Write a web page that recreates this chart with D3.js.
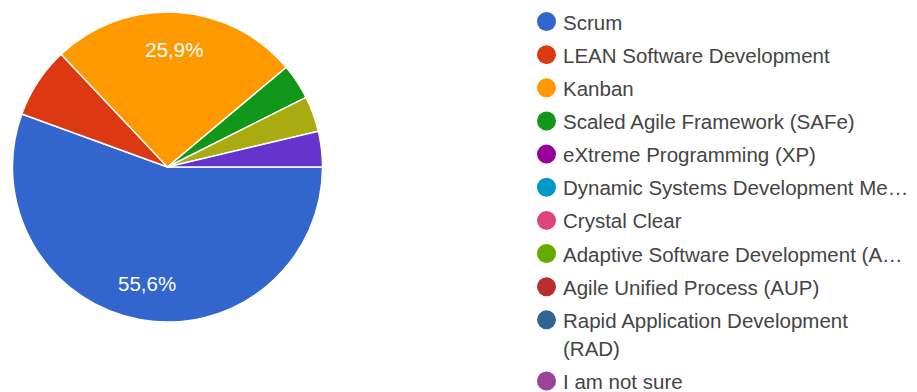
<!DOCTYPE html>
<html>
<head>
<meta charset="utf-8">
<script src="https://cdn.jsdelivr.net/npm/d3@7"></script>
<style>
  html, body { margin: 0; padding: 0; background: #fff; }
  svg { display: block; }
  text { font-family: "Liberation Sans", Arial, sans-serif; }
</style>
</head>
<body>
<svg id="chart" width="917" height="392"></svg>
<script>
// Survey answers: which agile method is used (27 responses)
const categories = [
  "Scrum",
  "LEAN Software Development",
  "Kanban",
  "Scaled Agile Framework (SAFe)",
  "eXtreme Programming (XP)",
  "Dynamic Systems Development Method (DSDM)",
  "Crystal Clear",
  "Adaptive Software Development (ASD)",
  "Agile Unified Process (AUP)",
  "Rapid Application Development (RAD)",
  "I am not sure",
  "Other (1)",
  "Other (2)",
  "Other (3)"
];
const counts = [15, 2, 7, 1, 0, 0, 0, 0, 0, 0, 0, 0, 1, 1];
const colors = [
  "#3366cc", "#dc3912", "#ff9900", "#109618", "#990099", "#0099c6",
  "#dd4477", "#66aa00", "#b82e2e", "#316395", "#994499", "#22aa99",
  "#aaaa11", "#6633cc"
];
// Legend text as shown in the side panel (long names truncated / wrapped)
const legendLabels = [
  ["Scrum"],
  ["LEAN Software Development"],
  ["Kanban"],
  ["Scaled Agile Framework (SAFe)"],
  ["eXtreme Programming (XP)"],
  ["Dynamic Systems Development Me…"],
  ["Crystal Clear"],
  ["Adaptive Software Development (A…"],
  ["Agile Unified Process (AUP)"],
  ["Rapid Application Development", "(RAD)"],
  ["I am not sure"]
];

const svg = d3.select("#chart");
const cx = 167.5, cy = 167, R = 155;

const data = categories.map((c, i) => ({ name: c, value: counts[i], color: colors[i] }));
const total = d3.sum(counts);

const pie = d3.pie()
  .sort(null)
  .value(d => d.value)
  .startAngle(Math.PI / 2)
  .endAngle(Math.PI / 2 + 2 * Math.PI);

const arcs = pie(data).filter(a => a.data.value > 0);
const arc = d3.arc().innerRadius(0).outerRadius(R);
const labelArc = d3.arc().innerRadius(R * 0.76).outerRadius(R * 0.76);

const g = svg.append("g").attr("transform", `translate(${cx},${cy})`);

g.selectAll("path.slice")
  .data(arcs)
  .join("path")
  .attr("class", "slice")
  .attr("d", arc)
  .attr("fill", d => d.data.color)
  .attr("stroke", "#ffffff")
  .attr("stroke-width", 1.4)
  .attr("stroke-linejoin", "round");

const fmt = v => (v * 100).toFixed(1).replace(".", ",") + "%";

g.selectAll("text.pct")
  .data(arcs.filter(a => a.data.value / total >= 0.1))
  .join("text")
  .attr("class", "pct")
  .attr("transform", d => `translate(${labelArc.centroid(d)})`)
  .attr("text-anchor", "middle")
  .attr("dominant-baseline", "central")
  .attr("fill", "#ffffff")
  .attr("font-size", 20.5)
  .text(d => fmt(d.data.value / total));

// Legend
const lx = 546.5, tx = 563, y0 = 21.5, rowH = 33.15, lineH = 28;
const legend = svg.append("g");
let extra = 0;
legendLabels.forEach((lines, i) => {
  const y = y0 + i * rowH + extra;
  legend.append("circle")
    .attr("cx", lx).attr("cy", y).attr("r", 9.5)
    .attr("fill", colors[i]);
  const t = legend.append("text")
    .attr("x", tx).attr("y", y)
    .attr("dominant-baseline", "central")
    .attr("fill", "#444444")
    .attr("font-size", 20.5);
  lines.forEach((ln, j) => {
    t.append("tspan").attr("x", tx).attr("dy", j === 0 ? 0 : lineH).text(ln);
  });
  extra += (lines.length - 1) * lineH;
});
</script>
</body>
</html>
